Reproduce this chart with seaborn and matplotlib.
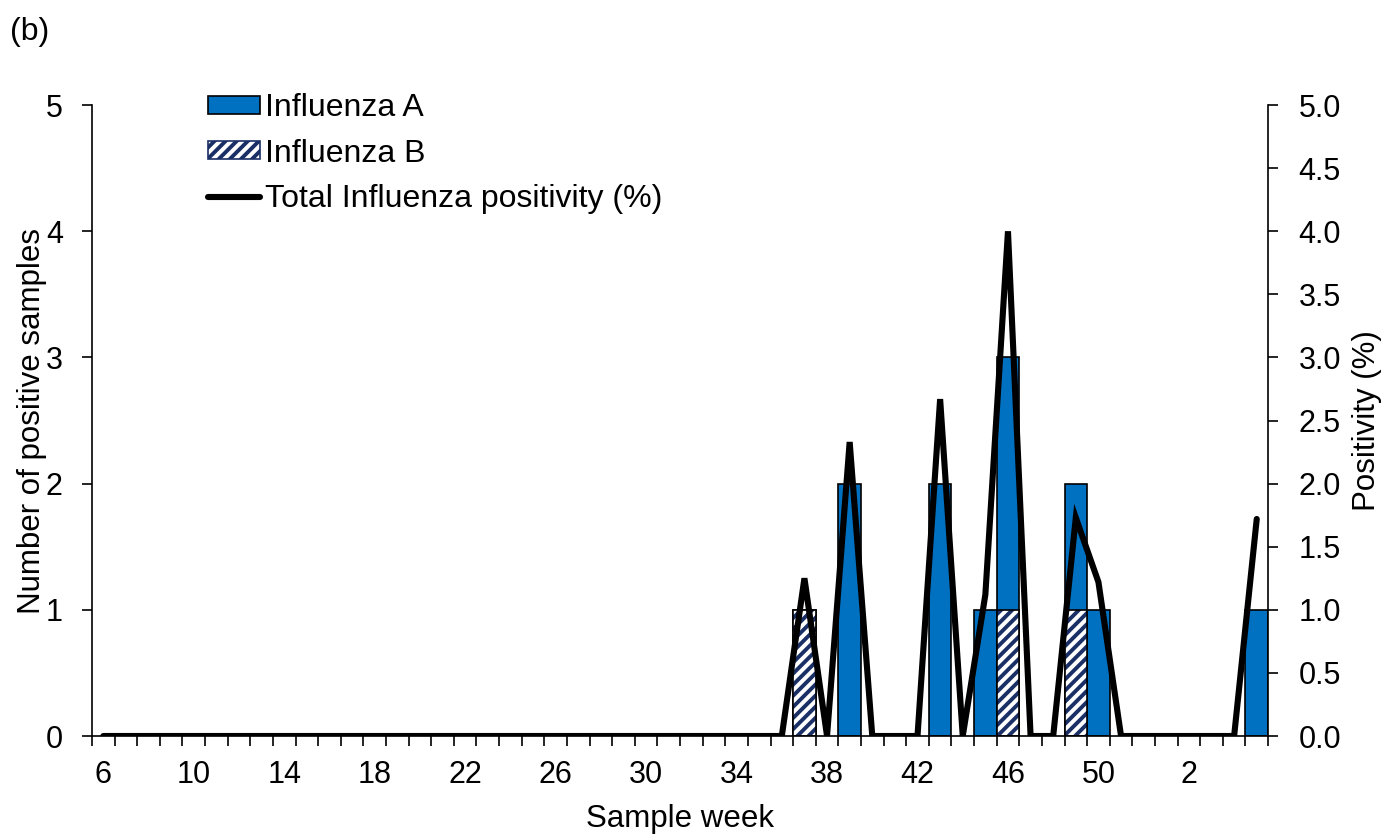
import numpy as np
import pandas as pd
import matplotlib
matplotlib.use("Agg")
import matplotlib.pyplot as plt
import seaborn as sns
from matplotlib.patches import Patch
from matplotlib.lines import Line2D

# 采样周：第6周到第52周，然后跨年到第1-5周
weeks = [str(w) for w in range(6, 53)] + [str(w) for w in range(1, 6)]

flu_a = {"39": 2, "43": 2, "45": 1, "46": 2, "49": 1, "50": 1, "5": 1}
flu_b = {"37": 1, "46": 1, "49": 1}
positivity = {"37": 1.25, "39": 2.33, "43": 2.67, "45": 1.12, "46": 4.0,
              "49": 1.73, "50": 1.22, "5": 1.72}

df = pd.DataFrame({"week": weeks})
df["pos"] = np.arange(len(weeks))
df["A"] = df["week"].map(flu_a).fillna(0)
df["B"] = df["week"].map(flu_b).fillna(0)
df["total"] = df["A"] + df["B"]
df["positivity"] = df["week"].map(positivity).fillna(0)

blue = "#0070C0"
navy = "#1A2F66"
fs = 22

sns.set_style("ticks")
plt.rcParams["font.family"] = ["Liberation Sans", "DejaVu Sans"]
plt.rcParams["hatch.linewidth"] = 2.8
for k in ("text.color", "axes.labelcolor", "xtick.color", "ytick.color", "axes.edgecolor"):
    plt.rcParams[k] = "black"

fig = plt.figure(figsize=(13.86, 8.34), dpi=100)
ax = fig.add_axes([0.0664, 0.1175, 0.8485, 0.7565])

# 叠加柱：先画总数（蓝色），再把 B 画在底部（斜线填充）
sns.barplot(data=df, x="week", y="total", order=weeks, color=blue, width=1.0,
            edgecolor="black", linewidth=1.2, saturation=1, ax=ax, errorbar=None)
sns.barplot(data=df, x="week", y="B", order=weeks, color="white", width=1.0,
            edgecolor=navy, linewidth=0, hatch="///", saturation=1, ax=ax, errorbar=None)
sns.barplot(data=df, x="week", y="B", order=weeks, fill=False, width=1.0,
            edgecolor="black", linewidth=1.2, ax=ax, errorbar=None)
# 高度为0的柱子不画边框
for p in ax.patches:
    if p.get_height() == 0:
        p.set_visible(False)

ax.set_xlim(-0.5, len(weeks) - 0.5)
ax.set_ylim(0, 5)
ax.set_yticks(range(0, 6))
ax.set_ylabel("Number of positive samples", fontsize=fs + 0.5)
ax.yaxis.set_label_coords(-0.038, 0.5)
ax.set_xlabel("Sample week", fontsize=fs + 0.5, labelpad=10)
ax.set_xticks(np.arange(0, len(weeks), 4))
ax.set_xticklabels(weeks[::4])
ax.set_xticks(np.arange(-0.5, len(weeks), 1), minor=True)
ax.tick_params(axis="x", which="major", length=0, labelsize=fs, pad=17)
ax.tick_params(axis="x", which="minor", length=7, width=1.2)
ax.tick_params(axis="y", length=7, width=1.2, labelsize=fs, pad=14)

ax2 = ax.twinx()
sns.lineplot(data=df, x="pos", y="positivity", color="black", linewidth=4.4,
             solid_capstyle="round", solid_joinstyle="miter", ax=ax2)
ax2.set_ylim(0, 5)
ax2.set_yticks(np.arange(0, 5.01, 0.5))
ax2.set_yticklabels([f"{v:.1f}" for v in np.arange(0, 5.01, 0.5)])
ax2.set_ylabel("Positivity (%)", fontsize=fs + 0.5)
ax2.yaxis.set_label_coords(1.071, 0.5)
ax2.tick_params(axis="y", length=7, width=1.2, labelsize=fs, pad=15)
ax2.set_xlim(-0.5, len(weeks) - 0.5)

for a in (ax, ax2):
    a.spines["top"].set_visible(False)
    for s in ("left", "right", "bottom"):
        a.spines[s].set_linewidth(1.2)
ax.spines["right"].set_visible(False)
ax2.spines["left"].set_visible(False)
ax2.spines["bottom"].set_visible(False)

handles = [Patch(facecolor=blue, edgecolor="black", linewidth=1.2),
           Patch(facecolor="white", edgecolor=navy, hatch="///", linewidth=1.2),
           Line2D([], [], color="black", linewidth=4.4, solid_capstyle="round")]
leg = ax2.legend(handles, ["Influenza A", "Influenza B", "Total Influenza positivity (%)"],
                 loc="upper left", bbox_to_anchor=(0.0875, 1.039), frameon=False,
                 fontsize=fs + 1, handlelength=1.63, handleheight=0.5,
                 handletextpad=0.15, labelspacing=0.48, borderaxespad=0)

fig.text(0.007, 0.952, "(b)", fontsize=fs + 1)

fig.savefig("out.png", dpi=100)
